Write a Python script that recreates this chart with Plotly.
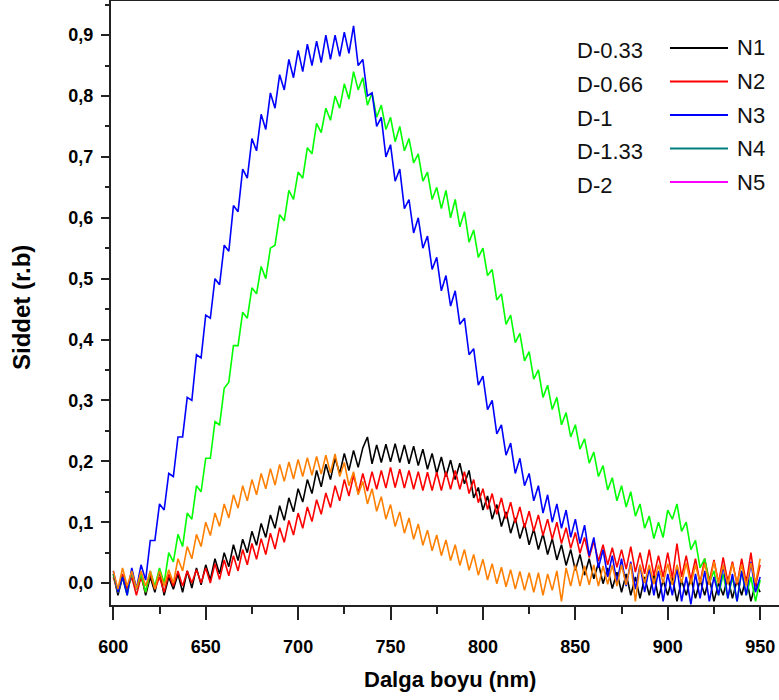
import plotly.graph_objects as go

# ---------------- data ----------------
wavelength = [600 + 2.5 * i for i in range(141)]  # nm sampling grid

n1 = [0.015,-0.02,0.01,-0.015,0.02,-0.01,0.015,-0.02,0.01,-0.015,
 0.02,-0.02,0.01,-0.01,0.015,-0.015,0.02,-0.008,0.025,-0.003,
 0.03,0.005,0.04,0.015,0.05,0.027,0.063,0.037,0.072,0.05,
 0.085,0.062,0.098,0.075,0.112,0.09,0.127,0.103,0.14,0.117,
 0.155,0.133,0.17,0.147,0.185,0.158,0.195,0.17,0.205,0.18,
 0.213,0.185,0.218,0.19,0.222,0.24,0.196,0.227,0.198,0.228,
 0.199,0.229,0.198,0.227,0.196,0.225,0.193,0.22,0.187,0.213,
 0.18,0.207,0.175,0.202,0.17,0.197,0.163,0.185,0.14,0.157,
 0.12,0.143,0.105,0.129,0.093,0.117,0.082,0.107,0.073,0.098,
 0.063,0.089,0.055,0.081,0.047,0.073,0.038,0.063,0.029,0.055,
 0.021,0.047,0.013,0.04,0.007,0.033,-0.001,0.025,-0.009,0.018,
 -0.015,0.015,-0.02,0.01,-0.025,0.01,-0.02,0.015,-0.025,0.005,
 -0.02,0.01,-0.03,0.005,-0.02,0.01,-0.025,0.005,-0.02,0.01,
 -0.03,0.0,-0.02,0.01,-0.025,0.005,-0.02,0.01,-0.03,0.0,
 -0.015]

n2 = [0.01,-0.015,0.015,-0.01,0.01,-0.02,0.01,-0.015,0.015,-0.01,
 0.01,-0.015,0.015,-0.005,0.02,-0.005,0.02,0.0,0.022,0.0,
 0.025,0.0,0.032,0.006,0.038,0.012,0.045,0.02,0.055,0.03,
 0.065,0.039,0.073,0.047,0.082,0.056,0.091,0.067,0.103,0.079,
 0.115,0.09,0.125,0.101,0.137,0.113,0.148,0.124,0.16,0.135,
 0.17,0.143,0.177,0.148,0.18,0.151,0.183,0.154,0.185,0.156,
 0.19,0.157,0.187,0.156,0.185,0.154,0.183,0.152,0.182,0.152,
 0.182,0.152,0.183,0.154,0.185,0.154,0.183,0.147,0.17,0.132,
 0.155,0.121,0.147,0.113,0.14,0.106,0.133,0.099,0.125,0.091,
 0.118,0.085,0.112,0.078,0.105,0.072,0.1,0.065,0.091,0.057,
 0.083,0.049,0.075,0.042,0.069,0.036,0.063,0.03,0.058,0.026,
 0.055,0.023,0.06,0.018,0.05,0.015,0.055,0.012,0.045,0.01,
 0.05,0.008,0.065,0.01,0.045,0.005,0.04,0.0,0.04,0.003,
 0.038,0.0,0.042,0.002,0.035,-0.002,0.04,0.0,0.05,-0.005,
 0.03]

n3 = [0.02,-0.015,0.01,-0.02,0.025,-0.01,0.03,0.005,0.07,0.07,
 0.13,0.12,0.18,0.175,0.24,0.24,0.305,0.3,0.375,0.37,
 0.44,0.435,0.5,0.49,0.555,0.545,0.62,0.61,0.68,0.665,
 0.73,0.71,0.77,0.745,0.805,0.78,0.835,0.81,0.86,0.83,
 0.875,0.84,0.885,0.85,0.89,0.855,0.9,0.86,0.9,0.865,
 0.905,0.87,0.915,0.85,0.86,0.8,0.805,0.75,0.765,0.7,
 0.72,0.66,0.68,0.615,0.63,0.575,0.6,0.55,0.57,0.515,
 0.535,0.48,0.505,0.455,0.48,0.425,0.435,0.375,0.385,0.325,
 0.34,0.285,0.3,0.245,0.26,0.21,0.23,0.18,0.205,0.16,
 0.18,0.135,0.16,0.115,0.145,0.1,0.13,0.09,0.12,0.075,
 0.105,0.065,0.095,0.045,0.075,0.025,0.055,0.01,0.045,0.0,
 0.04,-0.005,0.035,-0.01,0.03,-0.015,0.025,-0.02,0.02,-0.03,
 0.015,-0.02,0.025,-0.03,0.01,-0.035,0.015,-0.025,0.02,-0.03,
 0.01,-0.02,0.03,-0.025,0.015,-0.03,0.02,-0.02,0.035,-0.015,
 0.01]

n4 = [0.015,-0.015,0.01,-0.02,0.02,-0.01,0.015,-0.015,0.02,-0.005,
 0.025,0.0,0.05,0.035,0.08,0.06,0.115,0.105,0.16,0.15,
 0.205,0.205,0.265,0.26,0.32,0.33,0.39,0.39,0.445,0.435,
 0.485,0.475,0.52,0.5,0.55,0.555,0.605,0.595,0.645,0.63,
 0.675,0.665,0.715,0.705,0.755,0.74,0.78,0.76,0.8,0.78,
 0.82,0.795,0.84,0.81,0.83,0.785,0.805,0.765,0.785,0.745,
 0.765,0.725,0.75,0.71,0.73,0.69,0.705,0.66,0.675,0.63,
 0.65,0.615,0.645,0.6,0.63,0.585,0.61,0.56,0.58,0.535,
 0.55,0.505,0.515,0.465,0.475,0.425,0.44,0.395,0.41,0.365,
 0.38,0.335,0.35,0.305,0.325,0.285,0.305,0.26,0.28,0.24,
 0.26,0.22,0.237,0.197,0.215,0.175,0.193,0.153,0.173,0.135,
 0.16,0.125,0.15,0.11,0.13,0.09,0.11,0.073,0.1,0.075,
 0.12,0.105,0.13,0.085,0.1,0.055,0.07,0.025,0.04,0.0,
 0.02,-0.02,0.015,-0.025,0.01,-0.03,0.02,-0.02,0.01,-0.03,
 0.005]

n5 = [0.02,-0.01,0.025,-0.005,0.02,-0.01,0.02,-0.005,0.02,-0.01,
 0.02,-0.005,0.022,0.0,0.04,0.02,0.06,0.04,0.08,0.06,
 0.1,0.078,0.115,0.093,0.13,0.107,0.145,0.123,0.16,0.135,
 0.17,0.145,0.18,0.155,0.188,0.161,0.195,0.167,0.199,0.171,
 0.203,0.175,0.206,0.177,0.208,0.179,0.21,0.181,0.212,0.175,
 0.198,0.16,0.183,0.145,0.167,0.13,0.155,0.118,0.142,0.105,
 0.129,0.093,0.117,0.082,0.107,0.072,0.097,0.062,0.087,0.053,
 0.079,0.045,0.071,0.037,0.063,0.029,0.055,0.021,0.047,0.013,
 0.039,0.005,0.032,-0.001,0.026,-0.006,0.022,-0.01,0.019,-0.012,
 0.017,-0.015,0.017,-0.02,0.015,-0.012,0.02,-0.03,0.025,-0.005,
 0.03,-0.005,0.028,-0.003,0.03,-0.005,0.028,-0.002,0.03,-0.005,
 0.03,-0.003,0.032,-0.03,0.03,0.0,0.03,-0.002,0.03,0.0,
 0.032,-0.003,0.03,0.0,0.033,-0.002,0.03,0.0,0.032,-0.003,
 0.035,0.0,0.03,-0.002,0.032,0.0,0.03,-0.005,0.033,0.0,
 0.04]

series_names = ["N1", "N2", "N3", "N4", "N5"]
series_colors = ["#000000", "#ff0000", "#0000ff", "#00ff00", "#ff8000"]
draw_order = [0, 1, 3, 2, 4]  # black, red, green, blue, orange on top

legend_left = ["D-0.33", "D-0.66", "D-1", "D-1.33", "D-2"]
legend_right = ["N1", "N2", "N3", "N4", "N5"]
legend_colors = ["#000000", "#ff0000", "#0000ff", "#008080", "#ff00ff"]

x_ticks = [600, 650, 700, 750, 800, 850, 900, 950]
y_ticks = [0.0, 0.1, 0.2, 0.3, 0.4, 0.5, 0.6, 0.7, 0.8, 0.9]

# ---------------- figure ----------------
values = [n1, n2, n3, n4, n5]
fig = go.Figure()
for k in draw_order:
    fig.add_trace(go.Scatter(
        x=wavelength, y=values[k], mode="lines", name=series_names[k],
        line=dict(color=series_colors[k], width=1.6),
        showlegend=False))

FONT = "Liberation Sans, Arial, sans-serif"
AXC = "#222222"

fig.update_layout(
    width=779, height=700,
    margin=dict(l=111, r=0, t=1, b=95),
    paper_bgcolor="white", plot_bgcolor="white",
    separators=",.",
    showlegend=False,
    xaxis=dict(
        range=[598.75, 960.2], tickvals=x_ticks, ticks="outside", ticklen=13,
        tickwidth=2, tickcolor=AXC, showline=True, linewidth=2, linecolor=AXC,
        mirror=True, showgrid=False, zeroline=False,
        tickfont=dict(family=FONT, size=18, color="black", weight="bold"),
        ticklabelstandoff=11,
        minor=dict(dtick=25, tick0=600, ticks="outside", ticklen=7, tickwidth=2,
                   tickcolor=AXC, showgrid=False),
    ),
    yaxis=dict(
        range=[-0.036, 0.956], tickvals=y_ticks, tickformat=".1f",
        ticks="outside", ticklen=8, tickwidth=2, tickcolor=AXC,
        showline=True, linewidth=2, linecolor=AXC, mirror=False,
        showgrid=False, zeroline=False,
        tickfont=dict(family=FONT, size=18, color="black", weight="bold"),
        ticklabelstandoff=4,
        minor=dict(dtick=0.05, tick0=0, ticks="outside", ticklen=4, tickwidth=2,
                   tickcolor=AXC, showgrid=False),
    ),
)

# axis titles
fig.add_annotation(text="Dalga boyu (nm)", xref="paper", yref="paper",
                   x=0.5075, y=-0.124, xanchor="center", yanchor="middle",
                   showarrow=False,
                   font=dict(family=FONT, size=22, color="black", weight="bold"))
fig.add_annotation(text="Siddet (r.b)", xref="paper", yref="paper",
                   x=-0.1347, y=0.4917, xanchor="center", yanchor="middle",
                   textangle=-90, showarrow=False,
                   font=dict(family=FONT, size=24, color="black", weight="bold"))

# legend (drawn as text + line samples)
for i in range(len(legend_left)):
    yy = 0.9222 - i * 0.0555
    fig.add_annotation(text=legend_left[i], xref="paper", yref="paper",
                       x=0.6946, y=yy, xanchor="left", yanchor="middle",
                       yshift=-3, showarrow=False,
                       font=dict(family=FONT, size=22, color="#111111"))
    fig.add_shape(type="line", xref="paper", yref="paper",
                  x0=0.8368, x1=0.9237, y0=yy, y1=yy,
                  line=dict(color=legend_colors[i], width=2))
    fig.add_annotation(text=legend_right[i], xref="paper", yref="paper",
                       x=0.9341, y=yy, xanchor="left", yanchor="middle",
                       showarrow=False,
                       font=dict(family=FONT, size=22, color="#111111"))

fig.write_html("out.html")
